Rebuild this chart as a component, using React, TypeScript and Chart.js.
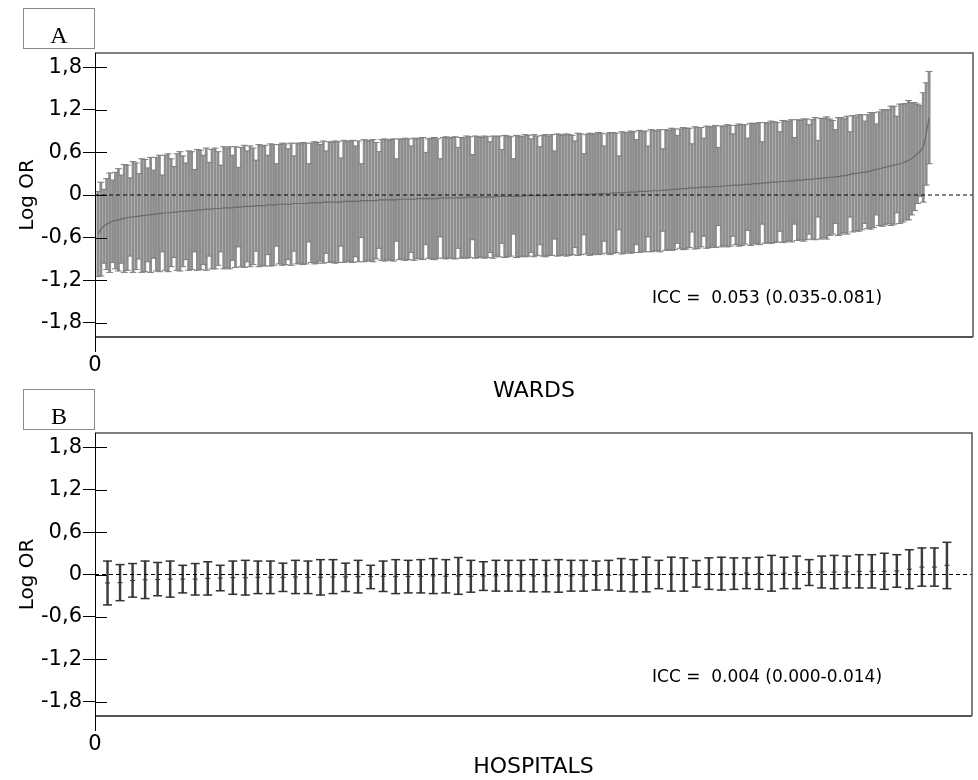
import React, { useEffect, useRef } from 'react';
import { Chart, registerables } from 'chart.js';

Chart.register(...registerables);

// ---------- DATA ----------
const yTickValues = [-1.8, -1.2, -0.6, 0, 0.6, 1.2, 1.8];
const xTickValues = [0];

// Panel A: wards (sorted by estimate), log OR estimate and half-width of CI
const wardEst = [
  -0.55, -0.48, -0.44, -0.41, -0.39, -0.37, -0.36, -0.35, -0.34, -0.33,
  -0.32, -0.31, -0.31, -0.30, -0.30, -0.29, -0.29, -0.28, -0.28, -0.27,
  -0.27, -0.26, -0.26, -0.25, -0.25, -0.25, -0.24, -0.24, -0.23, -0.23,
  -0.23, -0.22, -0.22, -0.22, -0.21, -0.21, -0.21, -0.20, -0.20, -0.20,
  -0.19, -0.19, -0.19, -0.18, -0.18, -0.18, -0.18, -0.17, -0.17, -0.17,
  -0.16, -0.16, -0.16, -0.16, -0.15, -0.15, -0.15, -0.15, -0.14, -0.14,
  -0.14, -0.14, -0.13, -0.13, -0.13, -0.13, -0.13, -0.12, -0.12, -0.12,
  -0.12, -0.12, -0.11, -0.11, -0.11, -0.11, -0.11, -0.10, -0.10, -0.10,
  -0.10, -0.10, -0.10, -0.10, -0.09, -0.09, -0.09, -0.09, -0.09, -0.09,
  -0.08, -0.08, -0.08, -0.08, -0.08, -0.08, -0.07, -0.07, -0.07, -0.07,
  -0.07, -0.07, -0.07, -0.06, -0.06, -0.06, -0.06, -0.06, -0.06, -0.05,
  -0.05, -0.05, -0.05, -0.05, -0.05, -0.05, -0.05, -0.04, -0.04, -0.04,
  -0.04, -0.04, -0.04, -0.04, -0.04, -0.04, -0.03, -0.03, -0.03, -0.03,
  -0.03, -0.03, -0.03, -0.03, -0.03, -0.03, -0.02, -0.02, -0.02, -0.02,
  -0.02, -0.02, -0.02, -0.02, -0.02, -0.02, -0.01, -0.01, -0.01, -0.01,
  -0.01, -0.01, -0.01, -0.01, -0.01, 0.00, 0.00, 0.00, 0.00, 0.00,
  0.00, 0.00, 0.00, 0.01, 0.01, 0.01, 0.01, 0.01, 0.01, 0.01,
  0.02, 0.02, 0.02, 0.02, 0.02, 0.02, 0.03, 0.03, 0.03, 0.03,
  0.03, 0.04, 0.04, 0.04, 0.04, 0.05, 0.05, 0.05, 0.05, 0.06,
  0.06, 0.06, 0.06, 0.07, 0.07, 0.07, 0.08, 0.08, 0.08, 0.09,
  0.09, 0.09, 0.10, 0.10, 0.10, 0.10, 0.11, 0.11, 0.11, 0.11,
  0.12, 0.12, 0.12, 0.12, 0.13, 0.13, 0.13, 0.14, 0.14, 0.14,
  0.14, 0.15, 0.15, 0.15, 0.16, 0.16, 0.16, 0.17, 0.17, 0.17,
  0.18, 0.18, 0.18, 0.19, 0.19, 0.19, 0.20, 0.20, 0.20, 0.21,
  0.21, 0.21, 0.22, 0.22, 0.22, 0.23, 0.23, 0.23, 0.24, 0.24,
  0.25, 0.25, 0.26, 0.26, 0.27, 0.27, 0.28, 0.29, 0.30, 0.30,
  0.31, 0.32, 0.32, 0.33, 0.34, 0.35, 0.36, 0.37, 0.38, 0.39,
  0.40, 0.41, 0.42, 0.43, 0.44, 0.45, 0.47, 0.49, 0.51, 0.54,
  0.58, 0.62, 0.67, 0.86, 1.09,
];

const wardHalf = [
  0.60, 0.66, 0.52, 0.64, 0.70, 0.58, 0.68, 0.72, 0.62, 0.76,
  0.74, 0.55, 0.78, 0.75, 0.60, 0.80, 0.79, 0.66, 0.81, 0.62,
  0.80, 0.82, 0.54, 0.81, 0.83, 0.76, 0.64, 0.82, 0.84, 0.78,
  0.68, 0.84, 0.83, 0.58, 0.85, 0.84, 0.77, 0.86, 0.66, 0.84,
  0.85, 0.80, 0.61, 0.86, 0.84, 0.86, 0.74, 0.85, 0.56, 0.84,
  0.86, 0.78, 0.85, 0.82, 0.64, 0.86, 0.84, 0.85, 0.70, 0.86,
  0.85, 0.58, 0.84, 0.86, 0.85, 0.78, 0.86, 0.67, 0.85, 0.84,
  0.86, 0.85, 0.55, 0.84, 0.86, 0.85, 0.82, 0.86, 0.72, 0.85,
  0.84, 0.86, 0.85, 0.62, 0.86, 0.84, 0.85, 0.86, 0.78, 0.85,
  0.52, 0.86, 0.84, 0.85, 0.86, 0.82, 0.68, 0.85, 0.86, 0.84,
  0.85, 0.86, 0.58, 0.85, 0.84, 0.86, 0.85, 0.75, 0.86, 0.84,
  0.85, 0.86, 0.65, 0.84, 0.85, 0.86, 0.84, 0.55, 0.85, 0.86,
  0.84, 0.85, 0.86, 0.71, 0.85, 0.84, 0.86, 0.85, 0.60, 0.86,
  0.85, 0.84, 0.86, 0.85, 0.78, 0.86, 0.84, 0.85, 0.66, 0.86,
  0.85, 0.84, 0.53, 0.86, 0.85, 0.84, 0.86, 0.85, 0.80, 0.86,
  0.84, 0.69, 0.85, 0.86, 0.84, 0.85, 0.62, 0.86, 0.85, 0.84,
  0.86, 0.85, 0.84, 0.75, 0.86, 0.85, 0.57, 0.84, 0.86, 0.85,
  0.84, 0.86, 0.85, 0.67, 0.84, 0.86, 0.85, 0.84, 0.52, 0.86,
  0.85, 0.84, 0.86, 0.85, 0.74, 0.86, 0.84, 0.85, 0.64, 0.86,
  0.85, 0.84, 0.86, 0.58, 0.85, 0.84, 0.86, 0.85, 0.76, 0.84,
  0.86, 0.85, 0.84, 0.62, 0.86, 0.85, 0.84, 0.69, 0.86, 0.85,
  0.84, 0.86, 0.55, 0.85, 0.84, 0.86, 0.85, 0.72, 0.84, 0.86,
  0.85, 0.84, 0.65, 0.86, 0.85, 0.84, 0.86, 0.58, 0.85, 0.84,
  0.86, 0.85, 0.84, 0.70, 0.86, 0.85, 0.84, 0.86, 0.61, 0.85,
  0.84, 0.86, 0.85, 0.77, 0.84, 0.86, 0.54, 0.85, 0.84, 0.86,
  0.82, 0.80, 0.66, 0.83, 0.82, 0.80, 0.83, 0.60, 0.82, 0.80,
  0.82, 0.81, 0.72, 0.80, 0.82, 0.81, 0.64, 0.80, 0.82, 0.81,
  0.80, 0.84, 0.83, 0.68, 0.84, 0.83, 0.82, 0.84, 0.79, 0.76,
  0.70, 0.64, 0.77, 0.72, 0.65,
];

// Panel B: hospitals
const hospEst = [
  -0.12, -0.115, -0.085, -0.075, -0.07, -0.065, -0.065, -0.065, -0.055, -0.05,
  -0.045, -0.045, -0.04, -0.04, -0.04, -0.035, -0.04, -0.04, -0.035, -0.035,
  -0.03, -0.03, -0.025, -0.03, -0.03, -0.025, -0.02, -0.025, -0.02, -0.025,
  -0.02, -0.02, -0.02, -0.02, -0.02, -0.02, -0.02, -0.02, -0.02, -0.015,
  -0.01, -0.005, -0.015, 0.0, 0.0, 0.005, 0.0, 0.01, 0.01, 0.01,
  0.01, 0.02, 0.015, 0.02, 0.02, 0.03, 0.03, 0.035, 0.035, 0.035,
  0.045, 0.045, 0.045, 0.05, 0.075, 0.105, 0.105, 0.13,
];
const hospUpper = [
  0.19, 0.14, 0.155, 0.19, 0.17, 0.19, 0.13, 0.155, 0.18, 0.13,
  0.19, 0.20, 0.19, 0.19, 0.16, 0.20, 0.19, 0.21, 0.21, 0.16,
  0.20, 0.13, 0.19, 0.21, 0.20, 0.21, 0.225, 0.21, 0.24, 0.20,
  0.18, 0.20, 0.20, 0.20, 0.21, 0.20, 0.21, 0.20, 0.20, 0.19,
  0.20, 0.225, 0.21, 0.245, 0.20, 0.245, 0.235, 0.197, 0.235, 0.244,
  0.235, 0.235, 0.244, 0.27, 0.244, 0.26, 0.21, 0.26, 0.27, 0.26,
  0.28, 0.28, 0.30, 0.28, 0.35, 0.375, 0.375, 0.455,
];
const hospLower = [
  -0.43, -0.37, -0.32, -0.34, -0.30, -0.32, -0.26, -0.29, -0.29, -0.23,
  -0.28, -0.29, -0.27, -0.27, -0.24, -0.27, -0.27, -0.29, -0.27, -0.24,
  -0.26, -0.20, -0.24, -0.27, -0.26, -0.26, -0.27, -0.26, -0.28, -0.25,
  -0.225, -0.235, -0.235, -0.235, -0.245, -0.245, -0.25, -0.235, -0.235, -0.22,
  -0.22, -0.235, -0.245, -0.245, -0.20, -0.235, -0.235, -0.178, -0.21, -0.22,
  -0.21, -0.20, -0.21, -0.235, -0.20, -0.20, -0.155, -0.19, -0.20, -0.19,
  -0.19, -0.19, -0.21, -0.18, -0.20, -0.165, -0.165, -0.20,
];

const wardLow = wardEst.map((e, i) => e - wardHalf[i]);
const wardHigh = wardEst.map((e, i) => e + wardHalf[i]);

const FONT = "'DejaVu Sans', 'Liberation Sans', Arial, sans-serif";

const framePlugin = {
  id: 'frame',
  afterDraw(chart: any) {
    const { ctx, chartArea } = chart;
    const { left, right, top, bottom } = chartArea;
    ctx.save();
    ctx.strokeStyle = '#555';
    ctx.lineWidth = 1.5;
    ctx.beginPath();
    ctx.moveTo(left, top);
    ctx.lineTo(right, top);
    ctx.lineTo(right, bottom);
    ctx.stroke();
    ctx.lineWidth = 2;
    ctx.beginPath();
    ctx.moveTo(left, bottom);
    ctx.lineTo(right, bottom);
    ctx.stroke();
    ctx.strokeStyle = '#000';
    ctx.lineWidth = 1;
    ctx.beginPath();
    const xs = chart.scales.x;
    xs.ticks.forEach((t: any) => {
      const px = Math.round(xs.getPixelForValue(t.value)) + 0.5;
      ctx.moveTo(px, top);
      ctx.lineTo(px, bottom + 15);
    });
    const ys = chart.scales.y;
    ys.ticks.forEach((t: any) => {
      const p = Math.round(ys.getPixelForValue(t.value)) + 0.5;
      ctx.moveTo(left, p);
      ctx.lineTo(left + 12, p);
    });
    ctx.stroke();
    ctx.restore();
  },
};

function makeConfig(o: {
  est: number[]; lo: number[]; hi: number[]; xMax: number; xTitle: string; xHeight: number;
  barColor: string; capColor: string; capRadius: number; capWidth: number; barWidth: number;
  estLine: boolean;
}): any {
  const idx = o.est.map((_, i) => i + 1);
  const datasets: any[] = [
    {
      type: 'line', data: [{ x: 0, y: 0 }, { x: o.xMax, y: 0 }],
      borderColor: '#000', borderWidth: 1, borderDash: [4, 3], pointRadius: 0, order: 0,
    },
    o.estLine
      ? {
          type: 'line', data: idx.map((x, i) => ({ x, y: o.est[i] })),
          borderColor: '#6a6a6a', borderWidth: 1.2, pointRadius: 0, order: 1,
        }
      : {
          type: 'line', showLine: false, data: idx.map((x, i) => ({ x, y: o.est[i] })),
          pointStyle: 'line', pointRadius: 2.5, pointBorderColor: o.capColor, pointBorderWidth: 1, order: 1,
        },
    {
      type: 'line', showLine: false, data: idx.map((x, i) => ({ x, y: o.hi[i] })),
      pointStyle: 'line', pointRadius: o.capRadius, pointBorderColor: o.capColor,
      pointBackgroundColor: o.capColor, pointBorderWidth: o.capWidth, order: 2,
    },
    {
      type: 'line', showLine: false, data: idx.map((x, i) => ({ x, y: o.lo[i] })),
      pointStyle: 'line', pointRadius: o.capRadius, pointBorderColor: o.capColor,
      pointBackgroundColor: o.capColor, pointBorderWidth: o.capWidth, order: 2,
    },
    {
      type: 'bar', data: idx.map((x, i) => ({ x, y: [o.lo[i], o.hi[i]] })),
      backgroundColor: o.barColor, borderWidth: 0, barThickness: o.barWidth, order: 3,
    },
  ];
  return {
    type: 'line',
    data: { datasets },
    plugins: [framePlugin],
    options: {
      responsive: false,
      animation: false,
      events: [],
      layout: { padding: { top: 53, right: 2, left: 0, bottom: 0 } },
      plugins: { legend: { display: false }, tooltip: { enabled: false } },
      scales: {
        x: {
          type: 'linear', min: 0, max: o.xMax, offset: false,
          afterBuildTicks: (s: any) => { s.ticks = xTickValues.map((v) => ({ value: v })); },
          afterFit: (s: any) => { s.height = o.xHeight; },
          ticks: { color: '#000', font: { family: FONT, size: 21 }, padding: 1, maxRotation: 0, callback: (v: any) => String(v) },
          grid: { drawOnChartArea: false, drawTicks: true, tickLength: 15, color: 'rgba(0,0,0,0)', lineWidth: 1 },
          border: { display: false },
          title: { display: true, text: o.xTitle, color: '#000', font: { family: FONT, size: 22 }, padding: { top: 0, bottom: 0 } },
        },
        y: {
          type: 'linear', min: -2, max: 2,
          afterBuildTicks: (s: any) => { s.ticks = yTickValues.map((v) => ({ value: v })); },
          afterFit: (s: any) => { s.width = 95; },
          ticks: {
            color: '#000', font: { family: FONT, size: 21 }, padding: 1,
            callback: (v: any) => (v === 0 ? '0' : Number(v).toFixed(1).replace('.', ',')),
          },
          grid: { drawOnChartArea: false, drawTicks: true, tickLength: 12, color: '#000', lineWidth: 1 },
          border: { display: false },
          title: { display: true, text: 'Log OR', color: '#000', font: { family: FONT, size: 20 }, padding: { top: 16, bottom: 0 } },
        },
      },
    },
  };
}

export default function App() {
  const refA = useRef<HTMLCanvasElement>(null);
  const refB = useRef<HTMLCanvasElement>(null);

  useEffect(() => {
    const a = new Chart(refA.current as HTMLCanvasElement, makeConfig({
      est: wardEst, lo: wardLow, hi: wardHigh, xMax: 300, xTitle: 'WARDS', xHeight: 67,
      barColor: '#8e8e8e', capColor: '#808080', capRadius: 3.5, capWidth: 1, barWidth: 2.2, estLine: true,
    }));
    const b = new Chart(refB.current as HTMLCanvasElement, makeConfig({
      est: hospEst, lo: hospLower, hi: hospUpper, xMax: 70, xTitle: 'HOSPITALS', xHeight: 64,
      barColor: '#3c3c3c', capColor: '#333', capRadius: 4.5, capWidth: 1.5, barWidth: 1.8, estLine: false,
    }));
    return () => { a.destroy(); b.destroy(); };
  }, []);

  const boxStyle: React.CSSProperties = {
    position: 'absolute', left: 23, width: 72, height: 41, border: '1px solid #8a8a8a', boxSizing: 'border-box',
  };
  const letterStyle: React.CSSProperties = {
    position: 'absolute', left: 23, width: 72, textAlign: 'center',
    fontFamily: "'Liberation Serif', 'Times New Roman', serif", fontSize: 24, lineHeight: '24px', color: '#000',
  };
  const iccStyle: React.CSSProperties = {
    position: 'absolute', left: 652, fontFamily: FONT, fontSize: 17, lineHeight: '18px', color: '#000', whiteSpace: 'pre',
  };

  return (
    <div style={{ position: 'absolute', left: 0, top: 0, width: 978, height: 780, background: '#fff', overflow: 'hidden' }}>
      <canvas ref={refA} width={978} height={404} style={{ position: 'absolute', left: 0, top: 0 }} />
      <canvas ref={refB} width={978} height={400} style={{ position: 'absolute', left: 0, top: 380 }} />
      <div style={{ ...boxStyle, top: 8 }} />
      <div style={{ ...letterStyle, top: 23 }}>A</div>
      <div style={{ ...boxStyle, top: 389 }} />
      <div style={{ ...letterStyle, top: 404 }}>B</div>
      <div style={{ ...iccStyle, top: 288 }}>{'ICC =  0.053 (0.035-0.081)'}</div>
      <div style={{ ...iccStyle, top: 667 }}>{'ICC =  0.004 (0.000-0.014)'}</div>
    </div>
  );
}
